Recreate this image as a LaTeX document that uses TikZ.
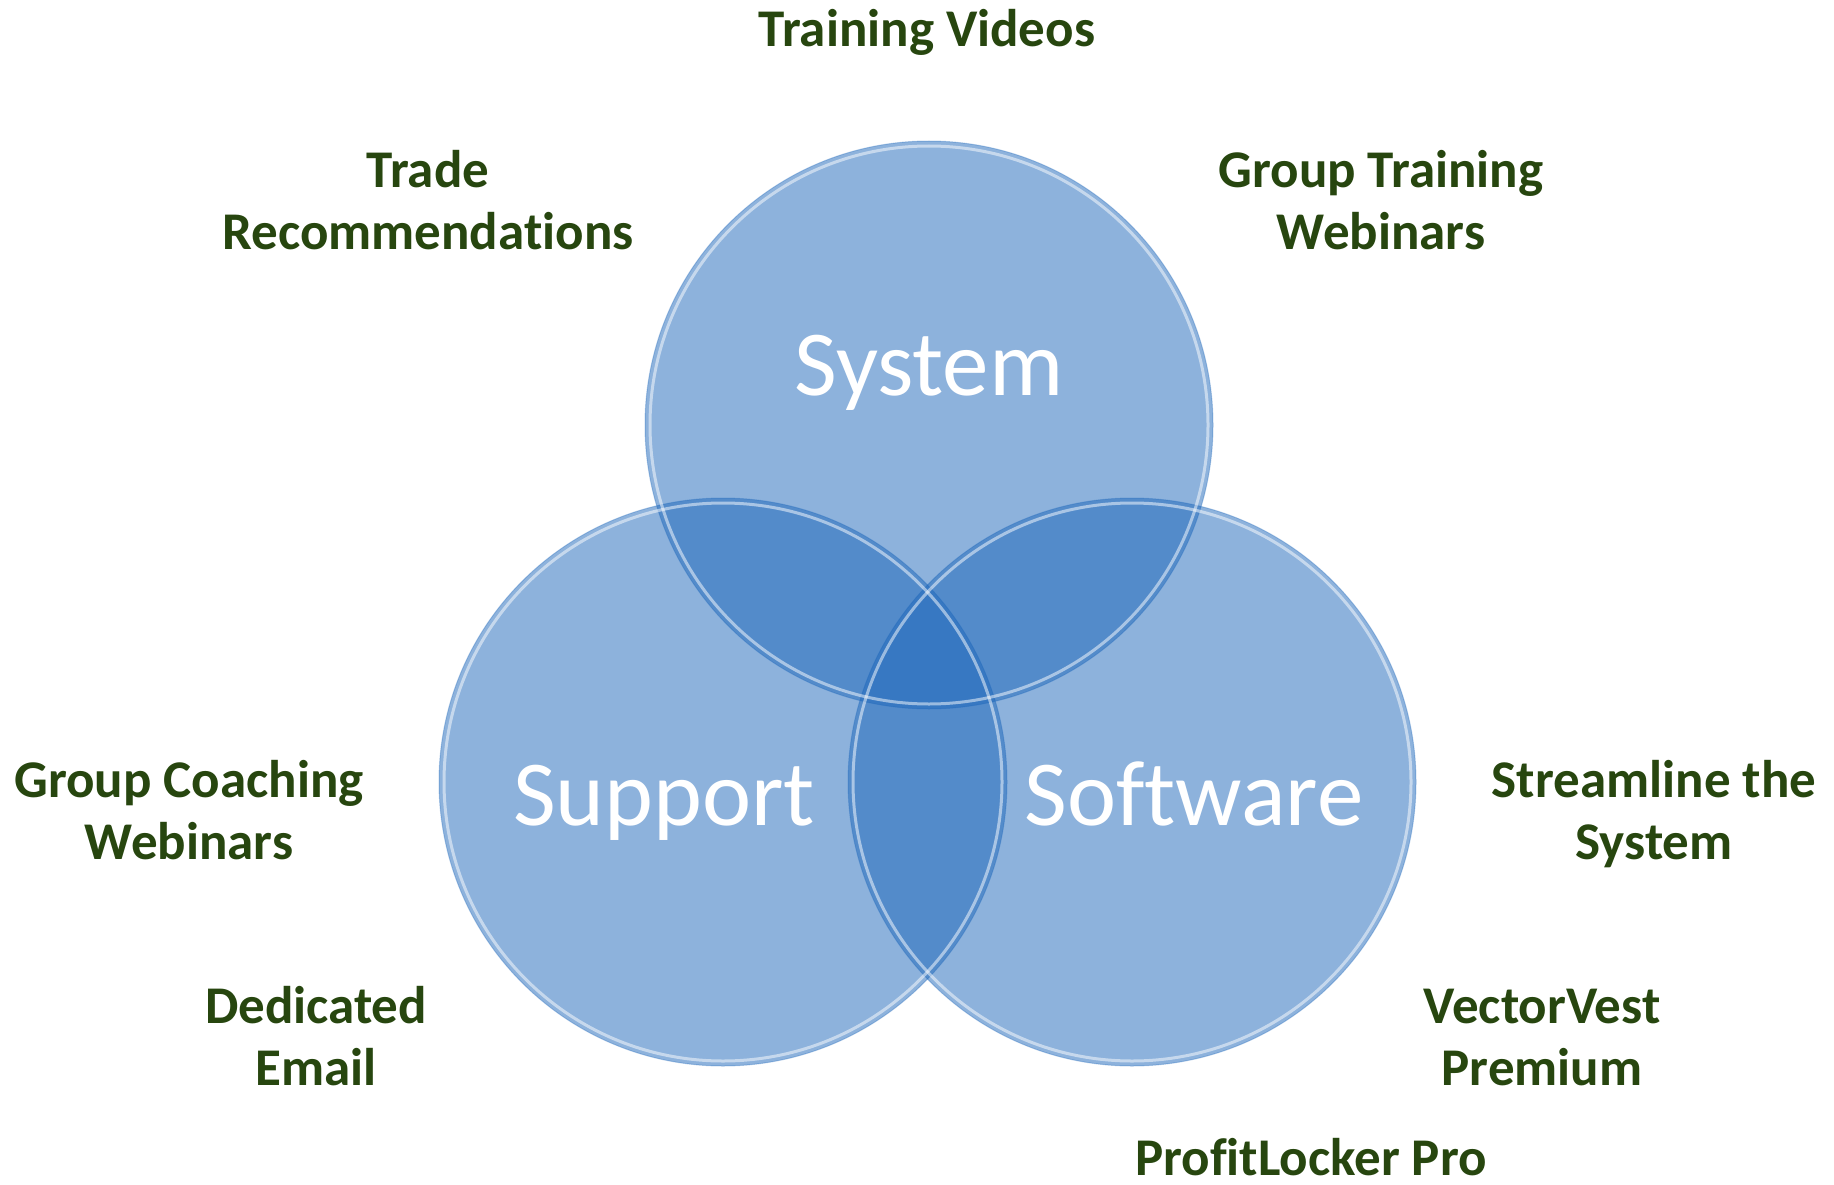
\documentclass[tikz,border=0pt]{standalone}
\usepackage{fontspec}
\setmainfont[RawFeature={-liga;-clig}]{Carlito}
\definecolor{circfill}{RGB}{27,101,185}
\definecolor{labelgreen}{RGB}{39,70,15}
\begin{document}
\begin{tikzpicture}[x=1pt,y=-1pt,
  venn/.style={circle, minimum size=568pt, inner sep=0pt, fill=circfill, fill opacity=0.5, draw=circfill, draw opacity=0.3, line width=1pt},
  rim/.style={circle, minimum size=558pt, inner sep=0pt, draw=white, draw opacity=0.5, line width=3pt},
  big/.style={text=white, font=\fontsize{93}{110}\selectfont, anchor=base, inner sep=0pt},
  item/.style={text=labelgreen, font=\fontsize{53}{62}\selectfont\bfseries, anchor=base, inner sep=0pt}]
\useasboundingbox (0,0) rectangle (1834,1185);

\node[venn] (csys) at (929,425) {};
\node[venn] (csup) at (723,782) {};
\node[venn] (csoft) at (1132,782) {};
\node[rim] (rsys) at (929,425) {};
\node[rim] (rsup) at (723,782) {};
\node[rim] (rsoft) at (1132,782) {};

\node[big] (lsys) at (929,395) {System};
\node[big] (lsup) at (664,825) {Support};
\node[big] (lsoft) at (1194,825) {Software};

\node[item] (tv) at (927,47) {Training Videos};
\node[item] (tr) at (428,188) {\begin{tabular}[t]{@{}c@{}}Trade\\Recommendations\end{tabular}};
\node[item] (gtw) at (1381,188) {\begin{tabular}[t]{@{}c@{}}Group Training\\Webinars\end{tabular}};
\node[item] (gcw) at (189,797) {\begin{tabular}[t]{@{}c@{}}Group Coaching\\Webinars\end{tabular}};
\node[item] (sts) at (1654,797) {\begin{tabular}[t]{@{}c@{}}Streamline the\\System\end{tabular}};
\node[item] (de) at (316,1023) {\begin{tabular}[t]{@{}c@{}}Dedicated\\Email\end{tabular}};
\node[item] (vvp) at (1542,1023) {\begin{tabular}[t]{@{}c@{}}VectorVest\\Premium\end{tabular}};
\node[item] (plp) at (1311,1175) {ProfitLocker Pro};
\end{tikzpicture}
\end{document}
